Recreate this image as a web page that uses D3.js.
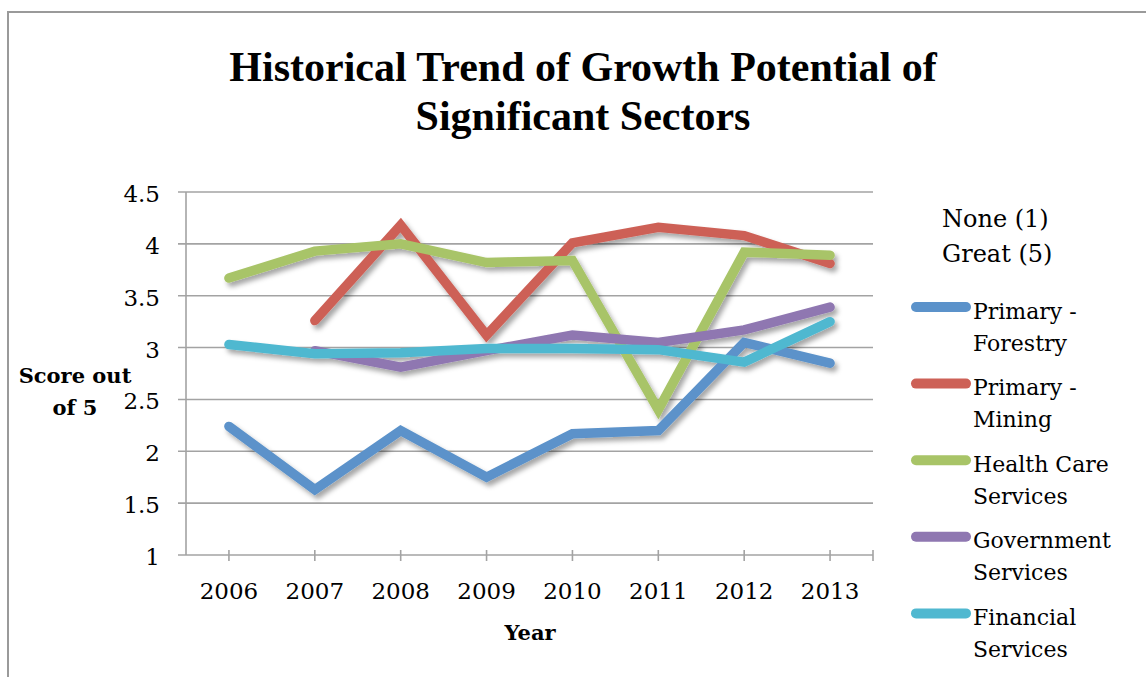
<!DOCTYPE html>
<html>
<head>
<meta charset="utf-8">
<script src="https://cdn.jsdelivr.net/npm/d3@7"></script>
<style>
  html, body { margin: 0; padding: 0; background: #fff; }
  svg { display: block; }
</style>
</head>
<body>
<svg id="chart" width="1146" height="677"></svg>
<script>
// Survey years (x categories)
const years = ["2006", "2007", "2008", "2009", "2010", "2011", "2012", "2013"];

// Scores out of 5 per sector (null = no rating that year)
const forestry   = [2.24, 1.63, 2.20, 1.75, 2.17, 2.20, 3.05, 2.85];
const mining     = [null, 3.26, 4.18, 3.12, 4.01, 4.16, 4.08, 3.81];
const healthCare = [3.67, 3.93, 4.00, 3.82, 3.84, 2.40, 3.92, 3.89];
const government = [null, 2.97, 2.81, 2.97, 3.12, 3.05, 3.17, 3.39];
const financial  = [3.03, 2.94, 2.95, 2.99, 2.99, 2.98, 2.86, 3.25];

const seriesNames = [
  ["Primary -", "Forestry"],
  ["Primary -", "Mining"],
  ["Health Care", "Services"],
  ["Government", "Services"],
  ["Financial", "Services"]
];
const seriesColors = ["#5b92ca", "#cd6157", "#a8c467", "#8f77b1", "#50b8d0"];
const seriesValues = [forestry, mining, healthCare, government, financial];

const yTicks = [1, 1.5, 2, 2.5, 3, 3.5, 4, 4.5];
const titleLines = ["Historical Trend of Growth Potential of", "Significant Sectors"];
const legendHeader = ["None (1)", "Great (5)"];

const svg = d3.select("#chart");
const tickFont = "'DejaVu Serif', serif";

// Outer chart frame
svg.append("rect")
  .attr("x", 8).attr("y", 12)
  .attr("width", 1200).attr("height", 700)
  .attr("fill", "none").attr("stroke", "#9a9a9a").attr("stroke-width", 2);

// Drop shadow for series lines
const defs = svg.append("defs");
const f = defs.append("filter").attr("id", "shadow")
  .attr("x", "-10%").attr("y", "-20%").attr("width", "130%").attr("height", "160%");
f.append("feDropShadow")
  .attr("dx", 3).attr("dy", 4).attr("stdDeviation", 2.5)
  .attr("flood-color", "#000").attr("flood-opacity", 0.35);

// Scales
const x = d3.scalePoint().domain(years).range([186, 873]).padding(0.5);
const y = d3.scaleLinear().domain([1, 4.5]).range([555, 192]);

// Title
svg.append("g").selectAll("text").data(titleLines).join("text")
  .attr("x", 583).attr("y", (d, i) => 81 + i * 49)
  .attr("text-anchor", "middle")
  .attr("font-family", "'Liberation Serif', 'Times New Roman', serif")
  .attr("font-weight", "bold").attr("font-size", 42)
  .attr("fill", "#000")
  .text(d => d);

// Horizontal gridlines (extend left past the axis like tick marks)
svg.append("g").selectAll("line").data(yTicks.filter(t => t > 1)).join("line")
  .attr("x1", 178).attr("x2", 873)
  .attr("y1", d => y(d)).attr("y2", d => y(d))
  .attr("stroke", "#a3a3a3").attr("stroke-width", 1.6);

// Y axis line and labels
svg.append("line")
  .attr("x1", 186).attr("x2", 186).attr("y1", y(4.5)).attr("y2", y(1))
  .attr("stroke", "#a3a3a3").attr("stroke-width", 1.6);
svg.append("g").selectAll("text").data(yTicks).join("text")
  .attr("x", 160).attr("y", d => y(d) + 10)
  .attr("text-anchor", "end")
  .attr("font-family", tickFont).attr("font-size", 23).attr("fill", "#000")
  .text(d => d3.format("")(d));

// X axis line, ticks and labels
svg.append("line")
  .attr("x1", 178).attr("x2", 873).attr("y1", y(1)).attr("y2", y(1))
  .attr("stroke", "#a3a3a3").attr("stroke-width", 1.6);
const xTickPos = [x.range()[1]].concat(years.map(d => x(d)));
svg.append("g").selectAll("line").data(xTickPos).join("line")
  .attr("x1", d => d).attr("x2", d => d)
  .attr("y1", y(1) - 5).attr("y2", y(1) + 6)
  .attr("stroke", "#a3a3a3").attr("stroke-width", 1.6);
svg.append("g").selectAll("text").data(years).join("text")
  .attr("x", d => x(d)).attr("y", 599)
  .attr("text-anchor", "middle")
  .attr("font-family", tickFont).attr("font-size", 23).attr("fill", "#000")
  .text(d => d);

// Axis titles
svg.append("text")
  .attr("x", 530).attr("y", 640).attr("text-anchor", "middle")
  .attr("font-family", tickFont).attr("font-weight", "bold").attr("font-size", 21)
  .text("Year");
svg.append("g").selectAll("text").data(["Score out", "of 5"]).join("text")
  .attr("x", 75).attr("y", (d, i) => 383 + i * 32).attr("text-anchor", "middle")
  .attr("font-family", tickFont).attr("font-weight", "bold").attr("font-size", 21)
  .text(d => d);

// Series lines
const line = d3.line()
  .defined(d => d.v != null)
  .x(d => x(d.year)).y(d => y(d.v));

const lineLayer = svg.append("g").attr("filter", "url(#shadow)");
seriesValues.forEach((vals, i) => {
  const pts = years.map((yr, j) => ({ year: yr, v: vals[j] }));
  lineLayer.append("path")
    .datum(pts)
    .attr("d", line)
    .attr("fill", "none")
    .attr("stroke", seriesColors[i])
    .attr("stroke-width", 9.5)
    .attr("stroke-linecap", "round")
    .attr("stroke-linejoin", "miter");
});

// Legend
const legend = svg.append("g");
legend.selectAll("text.hdr").data(legendHeader).join("text")
  .attr("class", "hdr")
  .attr("x", 942).attr("y", (d, i) => 227 + i * 35)
  .attr("font-family", tickFont).attr("font-size", 24).attr("fill", "#000")
  .text(d => d);

seriesNames.forEach((name, i) => {
  const cy = 307 + i * 76.6;
  legend.append("line")
    .attr("x1", 916).attr("x2", 966).attr("y1", cy).attr("y2", cy)
    .attr("stroke", seriesColors[i]).attr("stroke-width", 10)
    .attr("stroke-linecap", "round");
  legend.append("g").selectAll("text").data(name).join("text")
    .attr("x", 973).attr("y", (d, k) => cy + 11.5 + k * 32)
    .attr("font-family", tickFont).attr("font-size", 22).attr("fill", "#000")
    .text(d => d);
});
</script>
</body>
</html>
